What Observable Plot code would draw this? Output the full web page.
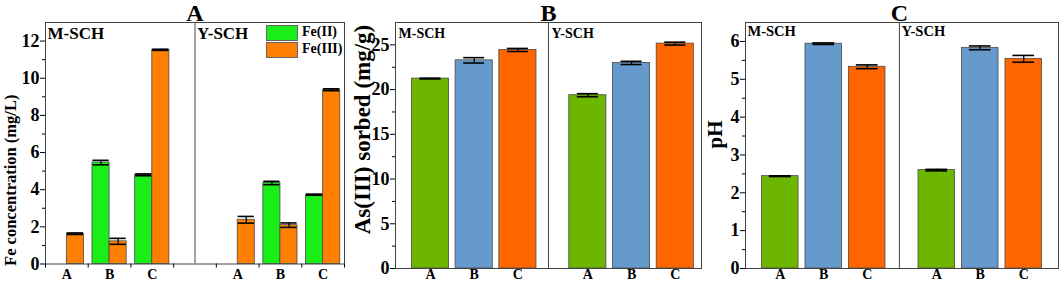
<!DOCTYPE html>
<html><head><meta charset="utf-8">
<script src="https://cdn.jsdelivr.net/npm/d3@7"></script>
<script src="https://cdn.jsdelivr.net/npm/@observablehq/plot@0.6"></script>
<style>
body{margin:0;background:#fff;}
#wrap{position:relative;width:1059px;height:283px;overflow:hidden;font-family:"Liberation Serif",serif;}
.panel{position:absolute;top:0;}
.panel svg{overflow:visible;}
.panel svg text{font-family:"Liberation Serif",serif !important;font-weight:bold !important;font-variant:normal !important;}
.panel svg g[aria-label="y-axis tick label"] text{font-size:18px !important;}
.panel svg g[aria-label="x-axis tick label"] text{font-size:14px !important;}
.lg{position:absolute;font-weight:bold;font-size:14px;line-height:16px;height:16px;color:#000;}
.sw{position:absolute;width:30px;height:14px;border:1px solid #666;}
</style></head><body><div id="wrap"></div>
<script>
// ---------- data ----------
const facets = ["M-SCH", "Y-SCH"];
const categories = ["A", "B", "C"];

// Panel A: Fe concentration (mg/L)
const feII_M = [0, 5.46, 4.80];
const feII_M_err = [0, 0.12, 0.05];
const feIII_M = [1.63, 1.22, 11.53];
const feIII_M_err = [0.04, 0.16, 0.03];
const feII_Y = [0, 4.36, 3.73];
const feII_Y_err = [0, 0.09, 0.03];
const feIII_Y = [2.38, 2.09, 9.38];
const feIII_Y_err = [0.18, 0.12, 0.05];

// Panel B: As(III) sorbed (mg/g)
const as_M = [21.23, 23.27, 24.43];
const as_M_err = [0.04, 0.30, 0.17];
const as_Y = [19.37, 22.98, 25.14];
const as_Y_err = [0.17, 0.18, 0.16];

// Panel C: pH
const ph_M = [2.44, 5.94, 5.33];
const ph_M_err = [0.01, 0.02, 0.05];
const ph_Y = [2.60, 5.83, 5.54];
const ph_Y_err = [0.02, 0.05, 0.09];

const ticksA = [0, 2, 4, 6, 8, 10, 12];
const ticksB = [0, 5, 10, 15, 20, 25];
const ticksC = [0, 1, 2, 3, 4, 5, 6];

const feSeries = ["Fe(II)", "Fe(III)"];
const feColors = ["#19ee19", "#ff8000"];
const catColors = ["#6cb600", "#6699cc", "#ff6600"];

// ---------- build ----------
const FONT = "Liberation Serif";
const wrap = document.getElementById("wrap");

function makePanel(cfg) {
  const {left, width, marginLeft, marginRight, marginBottom, xDomain, yDomain, yMajor, yMinor,
    labelPos, minorX, bars, errs, capHalf, divider, title, ylabel, ylDx, ylDy, ylSize,
    facetX, facetSize, facetDx, facetDy, xTickPad, colorDomain, colorRange} = cfg;
  const labelMap = new Map(labelPos.map(d => [d.x, d.label]));
  const marks = [
    Plot.rect(bars, {x1: "x1", x2: "x2", y1: 0, y2: "value", fill: "key", stroke: "#4a4a4a", strokeWidth: 0.8}),
    Plot.ruleX(errs, {x: "xc", y1: d => d.value - d.err, y2: d => d.value + d.err, stroke: "#000", strokeWidth: 1.3}),
    Plot.ruleY(errs, {y: d => d.value + d.err, x1: d => d.xc - capHalf, x2: d => d.xc + capHalf, stroke: "#000", strokeWidth: 1.6}),
    Plot.ruleY(errs, {y: d => d.value - d.err, x1: d => d.xc - capHalf, x2: d => d.xc + capHalf, stroke: "#000", strokeWidth: 1.6}),
    Plot.frame({stroke: "#444", strokeWidth: 1}),
    Plot.ruleX([divider], {stroke: "#444", strokeWidth: 1}),
    Plot.axisY({ticks: yMajor, tickFormat: d => String(d), tickSize: 5, tickPadding: 1, fontSize: 18, fontWeight: "bold", fontFamily: FONT, label: null}),
    Plot.axisY({ticks: yMinor, tickSize: 3, tickFormat: () => "", label: null}),
    Plot.axisX({ticks: labelPos.map(d => d.x), tickFormat: d => labelMap.get(d), tickSize: 0, tickPadding: xTickPad, fontSize: 14, fontWeight: "bold", fontFamily: FONT, label: null}),
    Plot.text(facets.map((f, i) => ({x: facetX[i], t: f})), {x: "x", text: "t", frameAnchor: "top", textAnchor: "start", lineAnchor: "top", dx: facetDx, dy: facetDy, fontSize: facetSize, fontWeight: "bold", fontFamily: FONT}),
    Plot.text([{x: divider, t: title}], {x: "x", text: "t", frameAnchor: "top", lineAnchor: "middle", dy: -9.5, fontSize: 24, fontWeight: "bold", fontFamily: FONT}),
    Plot.text([ylabel], {text: d => d, frameAnchor: "left", rotate: -90, textAnchor: "middle", lineAnchor: "middle", dx: ylDx, dy: ylDy, fontSize: ylSize, fontWeight: "bold", fontFamily: FONT})
  ];
  if (minorX) marks.push(Plot.axisX({ticks: minorX, tickSize: 4, tickFormat: () => "", label: null}));
  const chart = Plot.plot({
    width, height: 283, marginLeft, marginRight, marginTop: 22, marginBottom,
    x: {domain: xDomain, axis: null, label: null},
    y: {domain: yDomain, axis: null, label: null},
    color: {domain: colorDomain, range: colorRange},
    style: {fontFamily: FONT, fontWeight: "bold", fontSize: "16px", background: "transparent", color: "#000"},
    marks
  });
  const div = document.createElement("div");
  div.className = "panel";
  div.style.left = left + "px";
  div.appendChild(chart);
  wrap.appendChild(div);
}

// Panel A rows
const offA = [1, 5];
const barsA = [], errsA = [];
const feVals = [[feII_M, feIII_M], [feII_Y, feIII_Y]];
const feErrs = [[feII_M_err, feIII_M_err], [feII_Y_err, feIII_Y_err]];
facets.forEach((f, fi) => categories.forEach((c, ci) => feSeries.forEach((s, si) => {
  const v = feVals[fi][si][ci];
  if (!(v > 0)) return;
  const pos = offA[fi] + ci;
  const x1 = si === 0 ? pos - 0.4 : pos, x2 = si === 0 ? pos : pos + 0.4;
  const row = {facet: f, cat: c, key: s, value: v, err: feErrs[fi][si][ci], x1, x2, xc: (x1 + x2) / 2};
  barsA.push(row); errsA.push(row);
})));
const labelsA = [];
facets.forEach((f, fi) => categories.forEach((c, ci) => labelsA.push({x: offA[fi] + ci, label: c})));

makePanel({
  left: 0, width: 350, marginLeft: 45, marginRight: 6, marginBottom: 19.5,
  xDomain: [0.5, 7.5], yDomain: [0, 13], yMajor: ticksA, yMinor: d3.range(1, 13, 2),
  labelPos: labelsA, minorX: d3.range(0.5, 7.6, 1), bars: barsA, errs: errsA, capHalf: 0.19,
  divider: 4, title: "A", ylabel: "Fe concentration (mg/L)", ylDx: -35, ylDy: 37, ylSize: 16.5,
  facetX: [0.5, 4], facetSize: 17, facetDx: 2, facetDy: 4, xTickPad: 5.5,
  colorDomain: feSeries, colorRange: feColors
});

function simplePanel(valsM, errM, valsY, errY, off, halfW) {
  const bars = [], labels = [];
  [[valsM, errM], [valsY, errY]].forEach(([vals, errs], fi) => categories.forEach((c, ci) => {
    const pos = off[fi] + ci;
    bars.push({facet: facets[fi], cat: c, key: c, value: vals[ci], err: errs[ci], x1: pos - halfW, x2: pos + halfW, xc: pos});
    labels.push({x: pos, label: c});
  }));
  return {bars, labels};
}

const pB = simplePanel(as_M, as_M_err, as_Y, as_Y_err, [0.8, 4.4], 0.425);
makePanel({
  left: 350, width: 355, marginLeft: 45, marginRight: 4, marginBottom: 15,
  xDomain: [0, 7], yDomain: [0, 27.5], yMajor: ticksB, yMinor: d3.range(2.5, 27.5, 5),
  labelPos: pB.labels, minorX: null, bars: pB.bars, errs: pB.bars, capHalf: 0.24,
  divider: 3.5, title: "B", ylabel: "As(III) sorbed (mg/g)", ylDx: -33, ylDy: -16, ylSize: 23,
  facetX: [0, 3.5], facetSize: 14, facetDx: 3, facetDy: 5.5, xTickPad: 1,
  colorDomain: categories, colorRange: catColors
});

const pC = simplePanel(ph_M, ph_M_err, ph_Y, ph_Y_err, [0.8, 4.4], 0.42);
makePanel({
  left: 705, width: 354, marginLeft: 40, marginRight: 1, marginBottom: 15,
  xDomain: [0, 7.2], yDomain: [0, 6.5], yMajor: ticksC, yMinor: d3.range(0.5, 6.5, 1),
  labelPos: pC.labels, minorX: null, bars: pC.bars, errs: pC.bars, capHalf: 0.25,
  divider: 3.54, title: "C", ylabel: "pH", ylDx: -30, ylDy: -11, ylSize: 21,
  facetX: [0, 3.54], facetSize: 14.5, facetDx: 2, facetDy: 3.5, xTickPad: 0.5,
  colorDomain: categories, colorRange: catColors
});

// Legend for panel A (inside plot area, top right)
feSeries.forEach((s, i) => {
  const sw = document.createElement("div");
  sw.className = "sw";
  sw.style.left = "266px"; sw.style.top = (25 + i * 17) + "px";
  sw.style.background = feColors[i];
  wrap.appendChild(sw);
  const t = document.createElement("div");
  t.className = "lg";
  t.style.left = "302px"; t.style.top = (24 + i * 17) + "px";
  t.textContent = s;
  wrap.appendChild(t);
});
</script></body></html>
